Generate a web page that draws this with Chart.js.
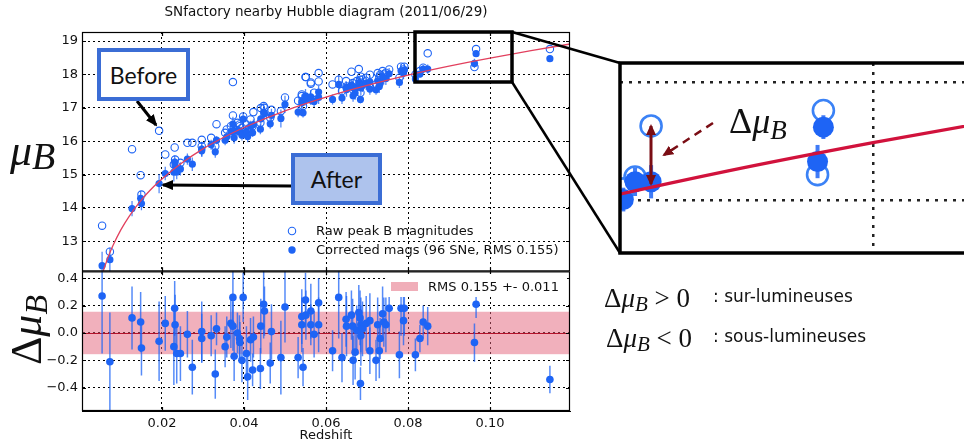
<!DOCTYPE html>
<html>
<head>
<meta charset="utf-8">
<script src="https://cdn.jsdelivr.net/npm/chart.js@4.4.1/dist/chart.umd.min.js"></script>
<style>
  body { margin: 0; width: 964px; height: 444px; overflow: hidden; background: #fff; position: relative; font-family: "DejaVu Sans", sans-serif; }
  #main { position: absolute; left: 0; top: 0; }
  #inset { position: absolute; left: 620px; top: 63px; }
  svg { position: absolute; left: 0; top: 0; }
  .box { position: absolute; box-sizing: border-box; border: 4px solid #3b6dd5; font-family: Lato, "Open Sans", sans-serif; font-size: 23px; color: #111; display: flex; align-items: center; justify-content: center; }
  .math { position: absolute; font-family: "Liberation Serif", serif; color: #111; white-space: nowrap; line-height: 1; }
  .math i { font-style: italic; }
  .math sub { font-style: italic; vertical-align: baseline; position: relative; }
  .txt { position: absolute; white-space: nowrap; color: #111; line-height: 1; }
</style>
</head>
<body>
<canvas id="main" width="580" height="444"></canvas>
<canvas id="inset" width="344" height="190"></canvas>

<svg width="964" height="444">
  <defs>
    <marker id="ah" markerUnits="userSpaceOnUse" markerWidth="12" markerHeight="10" refX="10" refY="5" orient="auto"><path d="M0,0 L12,5 L0,10 z" fill="#000"/></marker>
    <marker id="ahr" markerUnits="userSpaceOnUse" markerWidth="11" markerHeight="10" refX="9" refY="5" orient="auto-start-reverse"><path d="M0,0 L11,5 L0,10 z" fill="#7a0d14"/></marker>
  </defs>
  <!-- legend of the residual panel -->
  <rect x="386" y="274" width="181" height="23" fill="#fff"/>
  <rect x="391" y="282" width="27" height="9" fill="#f0aeb9"/>
  <!-- legend markers of the Hubble panel -->
  <circle cx="292" cy="231" r="3.7" fill="none" stroke="#1e64f5" stroke-width="1.1"/>
  <circle cx="292" cy="250" r="3.7" fill="#1e64f5"/>
  <!-- zoom rectangle and connectors -->
  <rect x="415" y="32" width="97" height="50" fill="none" stroke="#000" stroke-width="3.5"/>
  <line x1="512" y1="32" x2="620" y2="63" stroke="#000" stroke-width="2.5"/>
  <line x1="512" y1="82" x2="620" y2="253" stroke="#000" stroke-width="2.5"/>
  <path d="M970,63 H620 V253 H970" fill="none" stroke="#000" stroke-width="3.5"/>
  <!-- Before / After arrows -->
  <line x1="137" y1="101" x2="156" y2="125" stroke="#000" stroke-width="3" marker-end="url(#ah)"/>
  <line x1="292" y1="186" x2="163" y2="185" stroke="#000" stroke-width="3" marker-end="url(#ah)"/>
  <!-- inset arrows -->
  <line x1="651" y1="126" x2="651" y2="184" stroke="#7a0d14" stroke-width="3" marker-start="url(#ahr)" marker-end="url(#ahr)"/>
  <line x1="713" y1="123" x2="664" y2="155" stroke="#7a0d14" stroke-width="2.5" stroke-dasharray="8 6" marker-end="url(#ahr)"/>
</svg>

<div class="box" style="left:97px;top:48px;width:93px;height:53px;background:#fff;">Before</div>
<div class="box" style="left:291px;top:153px;width:91px;height:52px;background:#aec3ed;">After</div>

<div class="txt" style="left:316px;top:224px;font-size:13px;">Raw peak B magnitudes</div>
<div class="txt" style="left:316px;top:243px;font-size:13px;">Corrected mags (96 SNe, RMS 0.155)</div>
<div class="txt" style="left:428px;top:280px;font-size:13px;">RMS 0.155 +- 0.011</div>

<div class="math" style="left:10px;top:129px;font-size:44px;"><i>μ</i><sub style="font-size:38px;top:4px;">B</sub></div>
<div class="math" style="left:-23px;top:308px;font-size:44px;width:100px;text-align:center;transform:rotate(-90deg);">Δ<i>μ</i><sub style="font-size:32px;top:6px;">B</sub></div>

<div class="math" style="left:729px;top:103px;font-size:36px;">Δ<i>μ</i><sub style="font-size:27px;top:6px;">B</sub></div>

<div class="math" style="left:604px;top:285px;font-size:27px;">Δ<i>μ</i><sub style="font-size:21px;top:4px;">B</sub> &gt; 0</div>
<div class="txt" style="left:713px;top:288px;font-size:17px;">: sur-lumineuses</div>
<div class="math" style="left:606px;top:325px;font-size:27px;">Δ<i>μ</i><sub style="font-size:21px;top:4px;">B</sub> &lt; 0</div>
<div class="txt" style="left:713px;top:328px;font-size:17px;">: sous-lumineuses</div>

<script>
// axis limits
const xMin = 0.0005, xMax = 0.1195;
const muMin = 12.1, muMax = 19.27;
const resMin = -0.57, resMax = 0.45;
const rms = 0.155;

// Hubble curve
const modelZ = [0.0057, 0.007, 0.008, 0.010, 0.012, 0.015, 0.018, 0.020, 0.025, 0.030, 0.035, 0.040, 0.050, 0.060, 0.070, 0.080, 0.090, 0.100, 0.110, 0.120];
const modelMu = [12.12, 12.57, 12.86, 13.35, 13.75, 14.24, 14.64, 14.87, 15.36, 15.77, 16.11, 16.41, 16.91, 17.32, 17.67, 17.98, 18.25, 18.49, 18.71, 18.92];

// supernovae
const zSN = [
  0.0054, 0.0073, 0.0127, 0.0148, 0.0150, 0.0193, 0.0208, 0.0231, 0.0232, 0.0229,
  0.0236, 0.0245, 0.0262, 0.0274, 0.0297, 0.0297, 0.0320, 0.0330, 0.0333, 0.0354,
  0.0358, 0.0368, 0.0373, 0.0373, 0.0376, 0.0384, 0.0389, 0.0390, 0.0395, 0.0398,
  0.0406, 0.0409, 0.0416, 0.0423, 0.0421, 0.0440, 0.0441, 0.0448, 0.0450, 0.0464,
  0.0467, 0.0490, 0.0500, 0.0532, 0.0544, 0.0541, 0.0541, 0.0550, 0.0551, 0.0563,
  0.0563, 0.0571, 0.0582, 0.0582, 0.0616, 0.0631, 0.0639, 0.0649, 0.0650, 0.0662,
  0.0665, 0.0666, 0.0671, 0.0675, 0.0680, 0.0683, 0.0685, 0.0685, 0.0684, 0.0689,
  0.0698, 0.0707, 0.0707, 0.0722, 0.0726, 0.0730, 0.0732, 0.0738, 0.0741, 0.0746,
  0.0754, 0.0779, 0.0783, 0.0791, 0.0789, 0.0818, 0.0829, 0.0837, 0.0848, 0.0966,
  0.0962, 0.1146
];
const muCorr = [
  12.27, 12.45, 13.98, 14.29, 14.13, 14.73, 15.03, 15.37, 15.26, 15.07,
  15.08, 15.17, 15.46, 15.31, 15.76, 15.71, 15.89, 15.68, 16.03, 16.03,
  16.13, 16.29, 16.51, 16.30, 16.10, 16.31, 16.30, 16.28, 16.18, 16.66,
  16.29, 16.14, 16.45, 16.50, 16.25, 16.36, 16.67, 16.87, 16.83, 16.52,
  16.77, 16.68, 17.10, 16.87, 16.85, 17.20, 17.14, 17.36, 17.25, 17.33,
  17.23, 17.19, 17.47, 17.31, 17.25, 17.70, 17.29, 17.60, 17.55, 17.68,
  17.61, 17.36, 17.44, 17.61, 17.75, 17.72, 17.68, 17.60, 17.25, 17.67,
  17.73, 17.78, 17.56, 17.54, 17.81, 17.64, 17.73, 17.93, 17.88, 17.88,
  18.02, 17.76, 18.11, 18.13, 18.04, 17.86, 18.01, 18.16, 18.16, 18.62,
  18.33, 18.47
];
const muRaw = [
  13.47, 12.69, 15.76, 14.98, 14.40, 16.31, 15.60, 15.81, 15.45, 15.30,
  15.25, 15.35, 15.95, 15.95, 16.04, 15.85, 16.10, 15.85, 16.51, 16.25,
  16.35, 16.45, 17.77, 16.77, 16.30, 16.55, 16.50, 16.45, 16.40, 16.74,
  16.50, 16.35, 16.65, 16.87, 16.45, 16.55, 16.99, 17.05, 17.00, 16.70,
  16.94, 16.90, 17.31, 17.21, 17.05, 17.40, 17.35, 17.92, 17.92, 17.76,
  17.72, 17.45, 18.04, 17.79, 17.70, 17.84, 17.50, 17.80, 17.64, 18.08,
  17.74, 17.55, 17.60, 17.80, 18.16, 17.84, 17.93, 17.75, 17.45, 17.85,
  17.90, 17.99, 17.64, 17.70, 18.04, 17.93, 17.99, 18.10, 18.00, 18.05,
  18.15, 17.90, 18.23, 18.23, 18.15, 18.00, 18.10, 18.20, 18.63, 18.76,
  18.22, 18.76
];
const dMu = [
  0.27, -0.21, 0.11, 0.08, -0.11, -0.06, 0.07, 0.18, 0.06, -0.10,
  -0.15, -0.15, -0.01, -0.25, 0.01, -0.04, -0.02, -0.30, 0.03, -0.10,
  -0.03, 0.07, 0.26, 0.05, -0.17, 0.00, -0.04, -0.07, -0.20, 0.26,
  -0.15, -0.32, -0.05, -0.03, -0.27, -0.26, 0.05, 0.21, 0.16, -0.22,
  0.01, -0.18, 0.19, -0.18, -0.25, 0.12, 0.06, 0.24, 0.13, 0.16,
  0.06, -0.01, 0.22, 0.06, -0.13, 0.26, -0.18, 0.10, 0.05, 0.13,
  0.05, -0.20, -0.14, 0.02, 0.15, 0.11, 0.06, -0.02, -0.37, 0.03,
  0.07, 0.09, -0.13, -0.20, 0.06, -0.13, -0.04, 0.14, 0.08, 0.06,
  0.18, -0.16, 0.18, 0.18, 0.09, -0.16, -0.04, 0.08, 0.05, 0.21,
  -0.07, -0.34
];
const dMuErr = [
  0.42, 0.36, 0.23, 0.22, 0.20, 0.29, 0.20, 0.20, 0.22, 0.28,
  0.22, 0.20, 0.17, 0.20, 0.22, 0.18, 0.15, 0.18, 0.12, 0.15,
  0.15, 0.18, 0.22, 0.18, 0.18, 0.15, 0.17, 0.15, 0.16, 0.18,
  0.20, 0.17, 0.16, 0.15, 0.12, 0.15, 0.20, 0.25, 0.18, 0.15,
  0.20, 0.27, 0.26, 0.15, 0.14, 0.20, 0.20, 0.20, 0.18, 0.20,
  0.15, 0.17, 0.18, 0.20, 0.15, 0.30, 0.18, 0.20, 0.22, 0.18,
  0.20, 0.18, 0.20, 0.18, 0.20, 0.20, 0.20, 0.22, 0.12, 0.20,
  0.20, 0.20, 0.17, 0.15, 0.20, 0.20, 0.15, 0.20, 0.18, 0.20,
  0.17, 0.17, 0.20, 0.20, 0.18, 0.12, 0.10, 0.12, 0.14, 0.10,
  0.14, 0.10
];

const blue = '#1e64f5';
const pts = (ys) => zSN.map((z, i) => ({ x: z, y: ys[i] }));
const modelPts = modelZ.map((z, i) => ({ x: z, y: modelMu[i] }));
const tickFont = { family: 'DejaVu Sans', size: 13, lineHeight: 1.1 };

// vertical error bars, clipped to the panel of their own y scale
const errorBars = {
  id: 'errorBars',
  beforeDatasetsDraw(chart) {
    const ctx = chart.ctx;
    const area = chart.chartArea;
    chart.data.datasets.forEach((ds, i) => {
      if (!ds.errors) return;
      const ys = chart.scales[ds.yAxisID];
      const xs = chart.scales.x;
      ctx.save();
      ctx.beginPath();
      ctx.rect(area.left, ys.top, area.right - area.left, ys.bottom - ys.top);
      ctx.clip();
      ctx.strokeStyle = ds.errorColor;
      ctx.lineWidth = ds.errorWidth;
      ds.data.forEach((p, k) => {
        const x = xs.getPixelForValue(p.x);
        ctx.beginPath();
        ctx.moveTo(x, ys.getPixelForValue(p.y - ds.errors[k]));
        ctx.lineTo(x, ys.getPixelForValue(p.y + ds.errors[k]));
        ctx.stroke();
      });
      ctx.restore();
    });
  }
};

// rms band and zero line of the residual panel
const rmsBand = {
  id: 'rmsBand',
  beforeDatasetsDraw(chart) {
    const ctx = chart.ctx;
    const a = chart.chartArea;
    const ys = chart.scales.yRes;
    const top = ys.getPixelForValue(rms), bot = ys.getPixelForValue(-rms);
    ctx.save();
    ctx.fillStyle = 'rgba(228,98,122,0.5)';
    ctx.fillRect(a.left, top, a.right - a.left, bot - top);
    ctx.strokeStyle = '#b5142c';
    ctx.lineWidth = 1;
    const y0 = Math.round(ys.getPixelForValue(0)) + 0.5;
    ctx.beginPath();
    ctx.moveTo(a.left, y0);
    ctx.lineTo(a.right, y0);
    ctx.stroke();
    ctx.restore();
  }
};

// black frame around both panels, with inward tick marks
const frames = {
  id: 'frames',
  afterDatasetsDraw(chart) {
    const ctx = chart.ctx;
    const a = chart.chartArea;
    const xs = chart.scales.x;
    const tl = 4;
    ctx.save();
    ctx.strokeStyle = '#000';
    ctx.lineWidth = 1.2;
    ['yMu', 'yRes'].forEach(id => {
      const s = chart.scales[id];
      ctx.strokeRect(a.left + 0.5, s.top + 0.5, a.right - a.left - 1, s.bottom - s.top - 1);
      ctx.beginPath();
      s.ticks.forEach(t => {
        const y = Math.round(s.getPixelForValue(t.value)) + 0.5;
        ctx.moveTo(a.left, y); ctx.lineTo(a.left + tl, y);
        ctx.moveTo(a.right, y); ctx.lineTo(a.right - tl, y);
      });
      xs.ticks.forEach(t => {
        const x = Math.round(xs.getPixelForValue(t.value)) + 0.5;
        ctx.moveTo(x, s.top); ctx.lineTo(x, s.top + tl);
        ctx.moveTo(x, s.bottom); ctx.lineTo(x, s.bottom - tl);
      });
      ctx.stroke();
    });
    ctx.restore();
  }
};

new Chart(document.getElementById('main'), {
  type: 'scatter',
  data: {
    datasets: [
      {
        type: 'line', yAxisID: 'yMu', data: modelPts, borderColor: '#e2405e', borderWidth: 1.3,
        pointRadius: 0, cubicInterpolationMode: 'monotone', order: 0
      },
      {
        yAxisID: 'yMu', data: pts(muCorr), errors: dMuErr, errorColor: 'rgba(30,100,245,0.75)', errorWidth: 1.3,
        pointRadius: 3.6, backgroundColor: blue, borderWidth: 0, order: 1
      },
      {
        yAxisID: 'yMu', data: pts(muRaw), pointRadius: 3.7, borderColor: blue,
        backgroundColor: 'rgba(255,255,255,0)', borderWidth: 1.1, order: 2
      },
      {
        yAxisID: 'yRes', data: pts(dMu), errors: dMuErr, errorColor: 'rgba(30,100,245,0.75)', errorWidth: 1.5,
        pointRadius: 3.8, backgroundColor: blue, borderWidth: 0, order: 1
      }
    ]
  },
  options: {
    responsive: false,
    animation: false,
    layout: { autoPadding: false, padding: { top: 0, right: 10, bottom: 0, left: 0 } },
    plugins: {
      legend: { display: false },
      tooltip: { enabled: false },
      title: {
        display: true, fullSize: false, text: 'SNfactory nearby Hubble diagram (2011/06/29)', color: '#111',
        font: { family: 'DejaVu Sans', size: 13.5, weight: 'normal', lineHeight: 1.2 },
        padding: { top: 4, bottom: 11.8 }
      }
    },
    scales: {
      x: {
        type: 'linear', min: xMin, max: xMax,
        ticks: { stepSize: 0.02, includeBounds: false, padding: 5, color: '#111', font: tickFont, callback: v => v.toFixed(2) },
        grid: { color: '#000', lineWidth: 1, drawTicks: false },
        border: { color: '#000', dash: [2, 3] },
        title: { display: true, text: 'Redshift', color: '#111', font: tickFont, padding: { top: 0, bottom: 1 } },
        afterFit(s) { s.height = 33; }
      },
      yRes: {
        type: 'linear', position: 'left', stack: 'hubble', stackWeight: 140, min: resMin, max: resMax,
        ticks: { stepSize: 0.2, includeBounds: false, padding: 4, color: '#111', font: tickFont,
          callback: v => { const r = Math.round(v * 10) / 10; return (r < 0 ? '\u2212' : '') + Math.abs(r).toFixed(1); } },
        grid: { color: '#000', lineWidth: 1, drawTicks: false },
        border: { color: '#000', dash: [2, 3] },
        afterFit(s) { s.width = 82; }
      },
      yMu: {
        type: 'linear', position: 'left', stack: 'hubble', stackWeight: 240, min: muMin, max: muMax,
        ticks: { stepSize: 1, includeBounds: false, padding: 4, color: '#111', font: tickFont },
        grid: { color: '#000', lineWidth: 1, drawTicks: false },
        border: { color: '#000', dash: [2, 3] },
        afterFit(s) { s.width = 82; }
      }
    }
  },
  plugins: [rmsBand, errorBars, frames]
});

// zoomed inset of the high redshift corner
const insetX = [0.08267, 0.10623];
const insetY = [17.56, 19.16];

new Chart(document.getElementById('inset'), {
  type: 'scatter',
  data: {
    datasets: [
      {
        type: 'line', yAxisID: 'y', data: modelPts, borderColor: '#d1123c', borderWidth: 3.2,
        pointRadius: 0, cubicInterpolationMode: 'monotone', order: 0
      },
      {
        yAxisID: 'y', data: pts(muCorr), errors: dMuErr, errorColor: 'rgba(30,100,245,0.85)', errorWidth: 4,
        pointRadius: 10.5, backgroundColor: blue, borderWidth: 0, order: 1
      },
      {
        yAxisID: 'y', data: pts(muRaw), pointRadius: 10.5, borderColor: '#3b82f6',
        backgroundColor: 'rgba(255,255,255,0)', borderWidth: 2.6, order: 2
      }
    ]
  },
  options: {
    responsive: false,
    animation: false,
    layout: { autoPadding: false, padding: 0 },
    plugins: { legend: { display: false }, tooltip: { enabled: false } },
    scales: {
      x: {
        type: 'linear', min: insetX[0], max: insetX[1],
        ticks: { display: false, stepSize: 0.02, includeBounds: false },
        grid: { color: '#222', lineWidth: 2.5, drawTicks: false },
        border: { display: false, dash: [3, 6] },
        afterFit(s) { s.height = 0; }
      },
      y: {
        type: 'linear', min: insetY[0], max: insetY[1],
        ticks: { display: false, stepSize: 1, includeBounds: false },
        grid: { color: '#222', lineWidth: 2.5, drawTicks: false },
        border: { display: false, dash: [3, 6] },
        afterFit(s) { s.width = 0; }
      }
    }
  },
  plugins: [errorBars]
});
</script>
</body>
</html>
